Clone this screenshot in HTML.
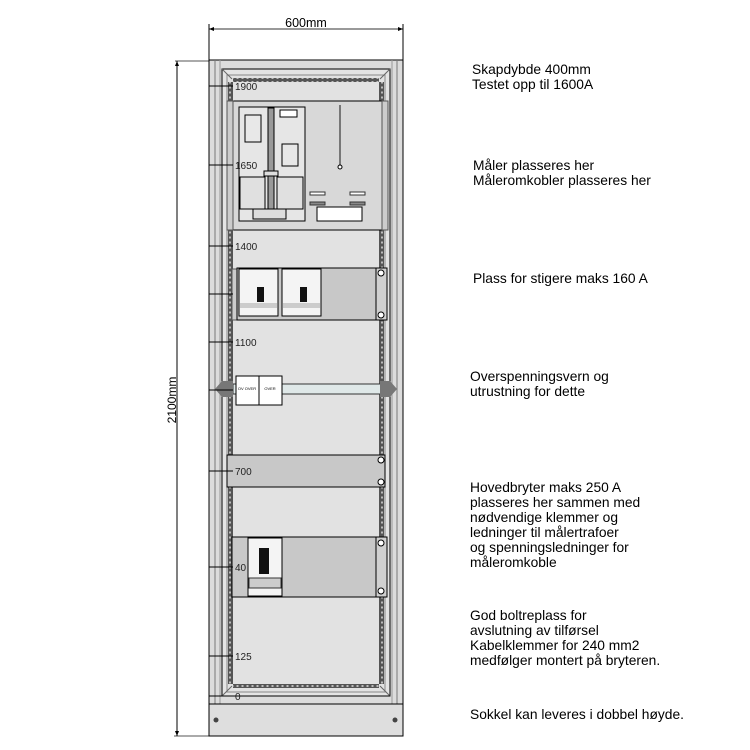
<!DOCTYPE html>
<html><head><meta charset="utf-8"><style>
body{margin:0;background:#fff;width:750px;height:750px;overflow:hidden}
svg{display:block}
.t{font-family:"Liberation Sans",sans-serif;font-size:13.8px;fill:#000}
.n{font-family:"Liberation Sans",sans-serif;font-size:10px;fill:#222}
</style></head><body>
<svg width="750" height="750" viewBox="0 0 750 750" xmlns="http://www.w3.org/2000/svg">
<defs>
<pattern id="perf" width="4" height="5" patternUnits="userSpaceOnUse"><rect width="4" height="5" fill="#555"/><rect x="1" y="1.5" width="2" height="2" fill="#bbb"/></pattern>
<pattern id="perfh" width="5" height="4" patternUnits="userSpaceOnUse"><rect width="5" height="4" fill="#555"/><rect x="1.5" y="1" width="2" height="2" fill="#bbb"/></pattern>
</defs>
<!-- dimensions -->
<line x1="209" y1="29" x2="403" y2="29" stroke="#333"/>
<polygon points="209,29 214,27 214,31" fill="#000"/><polygon points="403,29 398,27 398,31" fill="#000"/>
<line x1="209" y1="24" x2="209" y2="60" stroke="#000"/><line x1="403" y1="24" x2="403" y2="60" stroke="#000"/>
<text x="306" y="27" text-anchor="middle" class="t" style="font-size:12.5px">600mm</text>
<line x1="175" y1="61" x2="209" y2="61" stroke="#555"/>
<line x1="174" y1="736" x2="209" y2="736" stroke="#555"/>
<line x1="177" y1="61" x2="177" y2="736" stroke="#000"/>
<polygon points="177,61 175,66 179,66" fill="#000"/><polygon points="177,736 175,731 179,731" fill="#000"/>
<text transform="translate(176,400) rotate(-90)" text-anchor="middle" class="t" style="font-size:12px">2100mm</text>
<!-- cabinet -->
<rect x="209" y="60" width="194" height="644" fill="#dcdcdc" stroke="#000"/>
<line x1="215" y1="60" x2="215" y2="704" stroke="#777"/><line x1="397" y1="60" x2="397" y2="704" stroke="#777"/>
<line x1="220" y1="60" x2="220" y2="704" stroke="#999"/><line x1="392" y1="60" x2="392" y2="704" stroke="#999"/>
<rect x="222" y="69" width="168" height="627" fill="#e4e4e4" stroke="#000"/>
<rect x="227" y="75" width="158" height="617" fill="#e2e2e2" stroke="#888"/>
<rect x="228" y="82" width="5" height="602" fill="url(#perf)"/>
<rect x="379" y="82" width="5" height="602" fill="url(#perf)"/>
<rect x="233" y="78" width="146" height="4" fill="url(#perfh)"/>
<rect x="233" y="684" width="146" height="4" fill="url(#perfh)"/>
<line x1="222" y1="69" x2="232" y2="79" stroke="#666"/><line x1="390" y1="69" x2="380" y2="79" stroke="#666"/>
<line x1="222" y1="696" x2="232" y2="686" stroke="#666"/><line x1="390" y1="696" x2="380" y2="686" stroke="#666"/>
<line x1="209" y1="696" x2="390" y2="696" stroke="#000"/>
<!-- sokkel -->
<rect x="209" y="704" width="194" height="32" fill="#dedede" stroke="#000"/>
<circle cx="216" cy="720" r="2.5" fill="#444"/><circle cx="395" cy="720" r="2.5" fill="#444"/>
<!-- meter plate -->
<rect x="232" y="101" width="156" height="129" fill="#d8d8d8" stroke="#000"/>
<rect x="227" y="101" width="6" height="129" fill="#ccc" stroke="#555"/><rect x="382" y="101" width="6" height="129" fill="#ccc" stroke="#555"/>
<path d="M239 107 H305 V221 H239 Z" fill="#e6e6e6" stroke="#000"/>
<rect x="245" y="115" width="16" height="27" fill="#e8e8e8" stroke="#000"/>
<rect x="280" y="110" width="17" height="7" fill="#fff" stroke="#000"/>
<rect x="282" y="144" width="16" height="22" fill="#e8e8e8" stroke="#000"/>
<rect x="268" y="108" width="6" height="110" fill="#999" stroke="#000"/>
<rect x="240" y="177" width="25" height="32" fill="#e0e0e0" stroke="#000"/>
<rect x="277" y="177" width="26" height="32" fill="#e0e0e0" stroke="#000"/>
<rect x="264" y="171" width="14" height="5" fill="#ddd" stroke="#000"/>
<rect x="253" y="209" width="33" height="10" fill="#ddd" stroke="#000"/>
<rect x="339" y="105" width="2" height="60" fill="#777"/>
<circle cx="340" cy="167" r="2" fill="#fff" stroke="#000"/>
<rect x="310" y="192" width="15" height="3" fill="#fff" stroke="#333"/><rect x="350" y="192" width="15" height="3" fill="#fff" stroke="#333"/>
<rect x="310" y="202" width="15" height="3" fill="#888" stroke="#333"/><rect x="350" y="202" width="15" height="3" fill="#888" stroke="#333"/>
<rect x="317" y="207" width="45" height="14" fill="#fff" stroke="#000"/>
<!-- breakers -->
<rect x="232" y="269" width="6" height="51" fill="#ccc" stroke="#555"/>
<rect x="237" y="268" width="150" height="52" fill="#c8c8c8" stroke="#000"/>
<rect x="376" y="268" width="11" height="52" fill="#d0d0d0" stroke="#000"/>
<circle cx="381" cy="273" r="3" fill="#fff" stroke="#000"/><circle cx="381" cy="315" r="3" fill="#fff" stroke="#000"/>
<rect x="239" y="269" width="39" height="47" fill="#f4f4f4" stroke="#000"/>
<rect x="282" y="269" width="39" height="47" fill="#f4f4f4" stroke="#000"/>
<rect x="257" y="287" width="7" height="15" fill="#111"/><rect x="300" y="287" width="7" height="15" fill="#111"/>
<rect x="240" y="303" width="37" height="5" fill="#ccc"/><rect x="283" y="303" width="37" height="5" fill="#ccc"/>
<!-- rail -->
<rect x="233" y="384" width="150" height="10" fill="#dfe8e8" stroke="#333"/>
<path d="M215 389 L222 381 H233 V397 H222 Z" fill="#777"/>
<path d="M397 389 L390 381 H380 V397 H390 Z" fill="#777"/>
<rect x="236" y="376" width="23" height="29" fill="#fff" stroke="#000"/><rect x="259" y="376" width="23" height="29" fill="#fff" stroke="#000"/>
<text x="247" y="390" font-size="4" text-anchor="middle" font-family="Liberation Sans">OV OVER</text>
<text x="270" y="390" font-size="4" text-anchor="middle" font-family="Liberation Sans">OVER</text>
<!-- 700 panel -->
<rect x="227" y="455" width="158" height="32" fill="#c8c8c8" stroke="#000"/>
<circle cx="381" cy="460" r="3" fill="#fff" stroke="#000"/><circle cx="381" cy="482" r="3" fill="#fff" stroke="#000"/>
<!-- main breaker -->
<rect x="232" y="537" width="155" height="60" fill="#c8c8c8" stroke="#000"/>
<rect x="376" y="537" width="11" height="60" fill="#d0d0d0" stroke="#000"/>
<circle cx="381" cy="543" r="3" fill="#fff" stroke="#000"/><circle cx="381" cy="591" r="3" fill="#fff" stroke="#000"/>
<rect x="248" y="538" width="34" height="58" fill="#f4f4f4" stroke="#000"/>
<rect x="259" y="548" width="10" height="26" fill="#111"/>
<rect x="249" y="578" width="32" height="10" fill="#ccc" stroke="#333"/>
<!-- level ticks -->
<g stroke="#000">
<line x1="209" y1="86" x2="233" y2="86"/><line x1="209" y1="165" x2="233" y2="165"/>
<line x1="209" y1="246" x2="233" y2="246"/><line x1="209" y1="294" x2="233" y2="294"/>
<line x1="209" y1="342" x2="233" y2="342"/><line x1="209" y1="390" x2="233" y2="390"/>
<line x1="209" y1="471" x2="233" y2="471"/><line x1="209" y1="567" x2="233" y2="567"/>
<line x1="209" y1="656" x2="233" y2="656"/>
</g>
<g class="n">
<text x="235" y="90">1900</text><text x="235" y="169">1650</text><text x="235" y="250">1400</text>
<text x="235" y="346">1100</text><text x="235" y="475">700</text><text x="235" y="571">40</text>
<text x="235" y="660">125</text><text x="235" y="700">0</text>
</g>
<!-- notes -->
<g class="t">
<text x="472" y="74">Skapdybde 400mm</text><text x="472" y="89">Testet opp til 1600A</text>
<text x="473" y="170">Måler plasseres her</text><text x="473" y="185">Måleromkobler plasseres her</text>
<text x="473" y="283">Plass for stigere maks 160 A</text>
<text x="470" y="381">Overspenningsvern og</text><text x="470" y="396">utrustning for dette</text>
<text x="470" y="492">Hovedbryter maks 250 A</text><text x="470" y="507">plasseres her sammen med</text>
<text x="470" y="522">nødvendige klemmer og</text><text x="470" y="537">ledninger til målertrafoer</text>
<text x="470" y="552">og spenningsledninger for</text><text x="470" y="567">måleromkoble</text>
<text x="470" y="620">God boltreplass for</text><text x="470" y="635">avslutning av tilførsel</text>
<text x="470" y="650">Kabelklemmer for 240 mm2</text><text x="470" y="665">medfølger montert på bryteren.</text>
<text x="470" y="719">Sokkel kan leveres i dobbel høyde.</text>
</g>
</svg>
</body></html>
